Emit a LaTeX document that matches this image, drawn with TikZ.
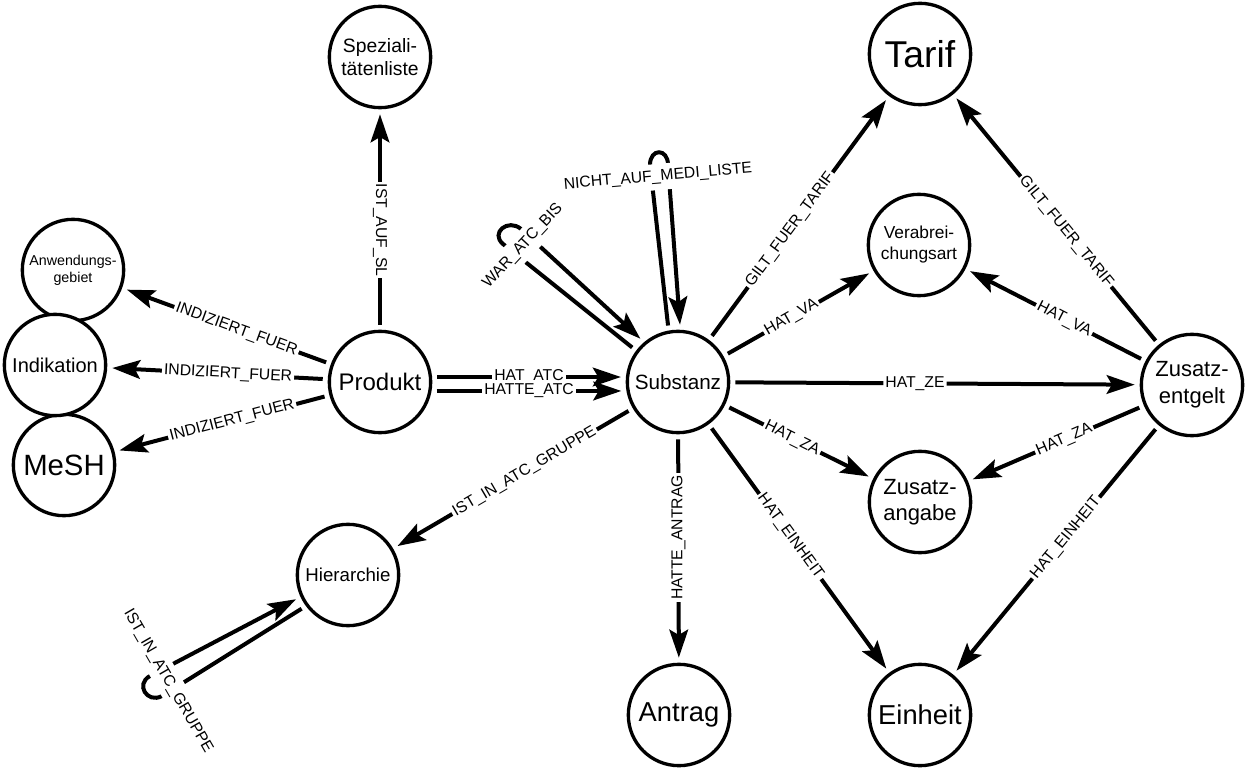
\documentclass[tikz,border=0pt]{standalone}
\usepackage{fontspec}
\setmainfont{Liberation Sans}
\usetikzlibrary{arrows.meta}

\begin{document}
\begin{tikzpicture}[x=0.75pt,y=-0.75pt,
  ent/.style={circle,draw,line width=2.5pt,fill=white,minimum size=76pt,inner sep=0pt,outer sep=5pt,align=center},
  rel/.style={line width=3pt,-{Stealth[length=21pt,width=14pt,inset=4pt]}},
  lbl/.style={fill=white,inner sep=1.5pt,font=\fontsize{11.8}{13.5}\selectfont}]
\useasboundingbox (0,0) rectangle (1247,770);
\node[ent,font=\fontsize{14.5}{17.5}\selectfont] (spez) at (380,57) {Speziali-\\tätenliste};
\node[ent,font=\fontsize{28}{32}\selectfont] (tarif) at (920,54) {Tarif};
\node[ent,font=\fontsize{22}{26}\selectfont] (mesh) at (64,465) {MeSH};
\node[ent,font=\fontsize{10.7}{13}\selectfont] (anw) at (73,270) {Anwendungs-\\gebiet};
\node[ent,font=\fontsize{15}{18}\selectfont] (ind) at (55,365) {Indikation};
\node[ent,font=\fontsize{18}{22}\selectfont] (prod) at (380,382) {Produkt};
\node[ent,font=\fontsize{15.5}{19}\selectfont] (sub) at (678,382) {Substanz};
\node[ent,font=\fontsize{13}{15.75}\selectfont] (verab) at (919,245) {Verabrei-\\chungsart};
\node[ent,font=\fontsize{16.5}{20}\selectfont] (ze) at (1192,385) {Zusatz-\\entgelt};
\node[ent,font=\fontsize{16.5}{19.5}\selectfont] (za) at (920,502) {Zusatz-\\angabe};
\node[ent,font=\fontsize{14}{17}\selectfont] (hier) at (348,575) {Hierarchie};
\node[ent,font=\fontsize{20.5}{24}\selectfont] (antrag) at (679,715) {Antrag};
\node[ent,font=\fontsize{20.5}{24}\selectfont] (einheit) at (920,715) {Einheit};

\draw[rel] (prod) -- (spez) node[lbl,pos=0.45,rotate=-90] (l-sl) {IST\_AUF\_SL};
\draw[rel] (prod) -- (anw) node[lbl,pos=0.45,sloped] (l-anw) {INDIZIERT\_FUER};
\draw[rel] (prod) -- (ind) node[lbl,pos=0.45,sloped] (l-ind) {INDIZIERT\_FUER};
\draw[rel] (prod) -- (mesh) node[lbl,pos=0.45,sloped] (l-mesh) {INDIZIERT\_FUER};
\draw[rel] (prod.5) -- (sub.175) node[lbl,midway] (l-atc) {HAT\_ATC};
\draw[rel] (prod.-9) -- (sub.-171) node[lbl,midway] (l-hatte) {HATTE\_ATC};

\draw[rel] (sub) -- (hier) node[lbl,pos=0.45,sloped] (l-grp) {IST\_IN\_ATC\_GRUPPE};
\draw[rel] (sub) -- (antrag) node[lbl,pos=0.45,rotate=90] (l-antrag) {HATTE\_ANTRAG};
\draw[rel] (sub) -- (tarif) node[lbl,pos=0.45,sloped] (l-tarif1) {GILT\_FUER\_TARIF};
\draw[rel] (sub) -- (verab) node[lbl,pos=0.45,sloped] (l-va1) {HAT\_VA};
\draw[rel] (sub) -- (ze) node[lbl,pos=0.45,sloped] (l-ze) {HAT\_ZE};
\draw[rel] (sub) -- (za) node[lbl,pos=0.45,sloped] (l-za1) {HAT\_ZA};
\draw[rel] (sub) -- (einheit) node[lbl,pos=0.45,sloped] (l-eh1) {HAT\_EINHEIT};
\draw[rel] (ze) -- (tarif) node[lbl,pos=0.45,sloped] (l-tarif2) {GILT\_FUER\_TARIF};
\draw[rel] (ze) -- (verab) node[lbl,pos=0.45,sloped] (l-va2) {HAT\_VA};
\draw[rel] (ze) -- (za) node[lbl,pos=0.45,sloped] (l-za2) {HAT\_ZA};
\draw[rel] (ze) -- (einheit) node[lbl,pos=0.45,sloped] (l-eh2) {HAT\_EINHEIT};

\draw[rel] (sub.143) -- (503,244) .. controls (490,233) and (508,218) .. (521,229) -- (sub.131);
\node[lbl,rotate=47,inner ysep=4.5pt] (l-war) at (523,246) {WAR\_ATC\_BIS};
\draw[rel] (sub.100) -- (650,165) .. controls (650,148) and (668,148) .. (668,165) -- (sub.88);
\node[lbl,rotate=5,inner ysep=4.5pt] (l-medi) at (658,177) {NICHT\_AUF\_MEDI\_LISTE};
\draw[rel] (hier.216) -- (162,696) .. controls (147,704) and (135,684) .. (150,676) -- (hier.205);
\node[lbl,rotate=-60,inner ysep=4.5pt] (l-gruppe) at (168,681) {IST\_IN\_ATC\_GRUPPE};
\end{tikzpicture}
\end{document}
